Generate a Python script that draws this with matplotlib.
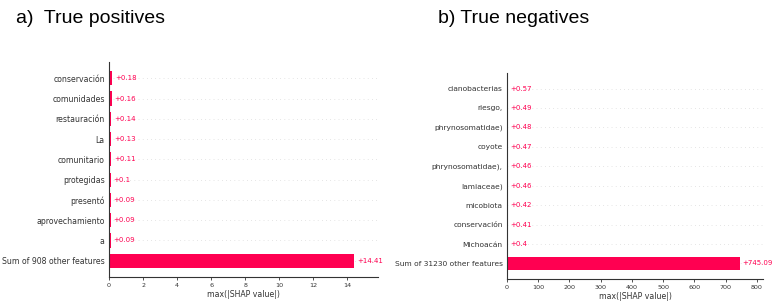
import matplotlib.pyplot as plt
import numpy as np

# panel a) true positives
tp_features = ['conservación', 'comunidades', 'restauración', 'La', 'comunitario',
               'protegidas', 'presentó', 'aprovechamiento', 'a',
               'Sum of 908 other features']
tp_values = [0.18, 0.16, 0.14, 0.13, 0.11, 0.10, 0.09, 0.09, 0.09, 14.41]
tp_labels = ['+0.18', '+0.16', '+0.14', '+0.13', '+0.11', '+0.1', '+0.09', '+0.09',
             '+0.09', '+14.41']
tp_ticks = [0, 2, 4, 6, 8, 10, 12, 14]

# panel b) true negatives
tn_features = ['cianobacterias', 'riesgo,', 'phrynosomatidae)', 'coyote',
               'phrynosomatidae),', 'lamiaceae)', 'micobiota', 'conservación',
               'Michoacán', 'Sum of 31230 other features']
tn_values = [0.57, 0.49, 0.48, 0.47, 0.46, 0.46, 0.42, 0.41, 0.40, 745.09]
tn_labels = ['+0.57', '+0.49', '+0.48', '+0.47', '+0.46', '+0.46', '+0.42', '+0.41',
             '+0.4', '+745.09']
tn_ticks = [0, 100, 200, 300, 400, 500, 600, 700, 800]

RED = '#ff0051'
AXC = '#333333'
W, H = 774, 301


def shap_bar(ax, features, values, labels, ticks, xmax, fs):
    y = np.arange(len(features))
    for yi in y:
        ax.axhline(yi, color='#cccccc', lw=0.5, dashes=(1, 5), zorder=-1)
    ax.barh(y, values, height=0.7, color=RED, zorder=2)
    for yi, v, lab in zip(y, values, labels):
        ax.annotate(lab, (v, yi), xytext=(2.2, 0), textcoords='offset points',
                    ha='left', va='center', color=RED, fontsize=5.0,
                    annotation_clip=False)
    ax.set_yticks(y)
    ax.set_yticklabels(features, fontsize=fs, color=AXC)
    ax.set_ylim(len(features) - 1 + 0.8, -0.8)
    ax.set_xlim(0, xmax)
    ax.set_xticks(ticks)
    ax.tick_params('x', labelsize=4.6, colors=AXC, length=2, width=0.6, pad=2)
    ax.tick_params('y', length=0, pad=3)
    ax.spines['right'].set_visible(False)
    ax.spines['top'].set_visible(False)
    ax.spines['left'].set_color(AXC)
    ax.spines['bottom'].set_color(AXC)
    ax.spines['left'].set_linewidth(0.8)
    ax.spines['bottom'].set_linewidth(0.8)
    ax.set_xlabel('max(|SHAP value|)', fontsize=5.6, color=AXC, labelpad=1.5)


def box(l, t, r, b):
    return [l / W, 1 - b / H, (r - l) / W, (b - t) / H]


fig = plt.figure(figsize=(7.74, 3.01), dpi=100)
ax1 = fig.add_axes(box(109, 62, 378, 277))
ax2 = fig.add_axes(box(507, 73, 763, 279))

shap_bar(ax1, tp_features, tp_values, tp_labels, tp_ticks, 15.8, 5.6)
shap_bar(ax2, tn_features, tn_values, tn_labels, tn_ticks, 820, 5.4)

fig.text(16 / W, 1 - 23 / H, 'a)  True positives', fontsize=14,
         family='Liberation Sans', ha='left', va='baseline')
fig.text(438 / W, 1 - 23 / H, 'b) True negatives', fontsize=14,
         family='Liberation Sans', ha='left', va='baseline')

fig.savefig('out.png', dpi=100)
